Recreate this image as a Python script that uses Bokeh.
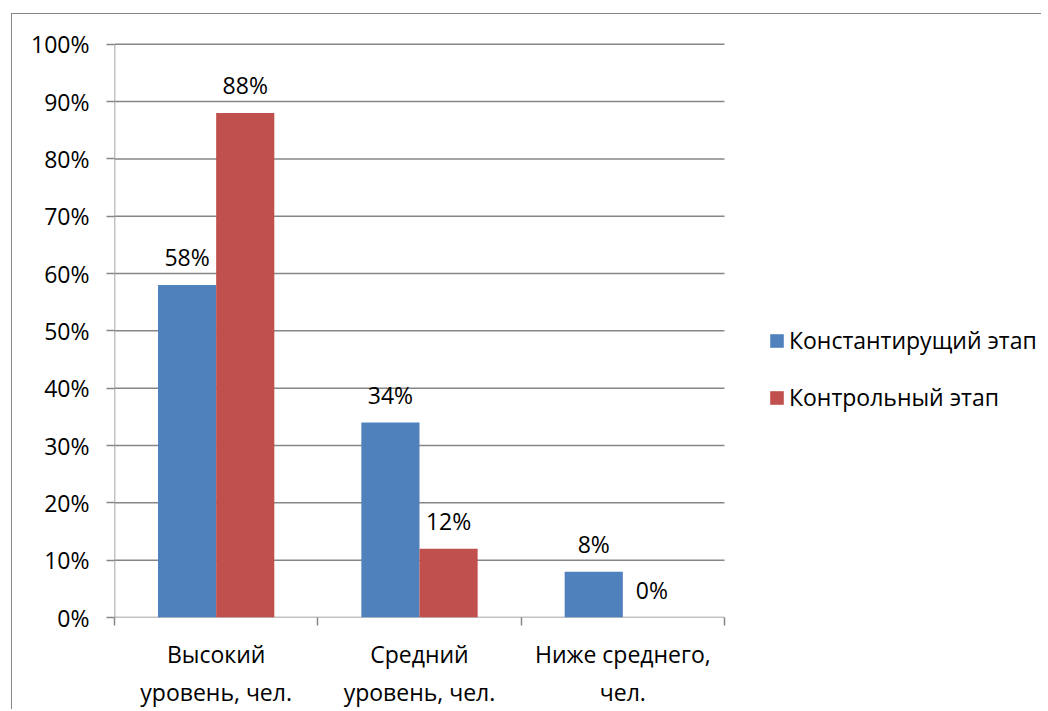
from bokeh.plotting import figure
from bokeh.models import (ColumnDataSource, FixedTicker, PrintfTickFormatter, LabelSet,
                          Legend, LegendItem, Range1d)
from bokeh.core.properties import value
from bokeh.embed import file_html
from bokeh.resources import INLINE

categories = ["Высокий\nуровень, чел.", "Средний\nуровень, чел.", "Ниже среднего,\nчел."]
series_names = ["Константирущий этап", "Контрольный этап"]
stage1 = [58, 34, 8]
stage2 = [88, 12, 0]
y_ticks = [0, 10, 20, 30, 40, 50, 60, 70, 80, 90, 100]

BLUE = "#4F81BD"
RED = "#C0504D"
GREY = "#868686"
FONT = "Open Sans"
FS = "23px"

n = len(categories)
W, H = 1030, 696
ML, MT, MB = 102, 24, 92
cat_px = 203.33                     # width of one category in pixels
x_end = (W - ML) / cat_px           # frame reaches the right edge (legend lives there)

p = figure(width=W, height=H, output_backend="svg", toolbar_location=None,
           x_range=Range1d(0, x_end), y_range=Range1d(0, 101),
           min_border_left=ML, min_border_right=0, min_border_top=MT, min_border_bottom=MB,
           styles={"border-left": "1.5px solid #868686", "border-top": "1.5px solid #868686",
                   "margin-left": "11px", "margin-top": "13px"})
p.outline_line_color = None
p.background_fill_color = "white"
p.border_fill_color = "white"

# gridlines and axis lines limited to the category area
p.segment(x0=[0] * len(y_ticks), x1=[n] * len(y_ticks), y0=y_ticks, y1=y_ticks,
          line_color=GREY, line_width=1.5)
p.segment(x0=[0], x1=[0], y0=[0], y1=[y_ticks[-1]], line_color=GREY, line_width=1.5)

centers = [i + 0.5 for i in range(n)]
bw = 0.286
src1 = ColumnDataSource(dict(x=[c - bw / 2 for c in centers], top=stage1,
                             lab=[f"{v}%" for v in stage1]))
src2 = ColumnDataSource(dict(x=[c + bw / 2 for c in centers], top=stage2,
                             lab=[f"{v}%" for v in stage2]))

r1 = p.vbar(x="x", top="top", width=bw, source=src1, fill_color=BLUE, line_color=None)
r2 = p.vbar(x="x", top="top", width=bw, source=src2, fill_color=RED, line_color=None)

for s in (src1, src2):
    p.add_layout(LabelSet(x="x", y="top", text="lab", source=s, y_offset=28,
                          text_align="center", text_baseline="middle",
                          text_font=value(FONT), text_font_size=value(FS),
                          text_color="black"))

# axes
p.xaxis.ticker = FixedTicker(ticks=centers, minor_ticks=list(range(n + 1)))
p.xaxis.major_label_overrides = {c: lab for c, lab in zip(centers, categories)}
p.xaxis.major_tick_line_color = None
p.xaxis.minor_tick_line_color = GREY
p.xaxis.minor_tick_line_width = 1.5
p.xaxis.minor_tick_out = 8
p.xaxis.minor_tick_in = 0
p.xaxis.axis_line_color = None
p.xaxis.major_label_text_font = FONT
p.xaxis.major_label_text_font_size = FS
p.xaxis.major_label_text_color = "black"
p.xaxis.major_label_standoff = 12

p.yaxis.ticker = FixedTicker(ticks=y_ticks)
p.yaxis.formatter = PrintfTickFormatter(format="%d%%")
p.yaxis.minor_tick_line_color = None
p.yaxis.major_tick_line_color = GREY
p.yaxis.major_tick_line_width = 1.5
p.yaxis.major_tick_out = 8
p.yaxis.major_tick_in = 0
p.yaxis.axis_line_color = None
p.yaxis.major_label_text_font = FONT
p.yaxis.major_label_text_font_size = FS
p.yaxis.major_label_text_color = "black"
p.yaxis.major_label_standoff = 17

p.xgrid.grid_line_color = None
p.ygrid.grid_line_color = None

legend = Legend(items=[LegendItem(label=series_names[0], renderers=[r1]),
                       LegendItem(label=series_names[1], renderers=[r2])],
                location=(654, 204), orientation="vertical")
legend.border_line_color = None
legend.background_fill_alpha = 0
legend.padding = 0
legend.margin = 0
legend.spacing = 25
legend.glyph_width = 17
legend.glyph_height = 17
legend.label_standoff = 4
legend.label_text_font = FONT
legend.label_text_font_size = FS
legend.label_text_color = "black"
p.add_layout(legend, "center")

open("out.html", "w").write(file_html(p, INLINE))
